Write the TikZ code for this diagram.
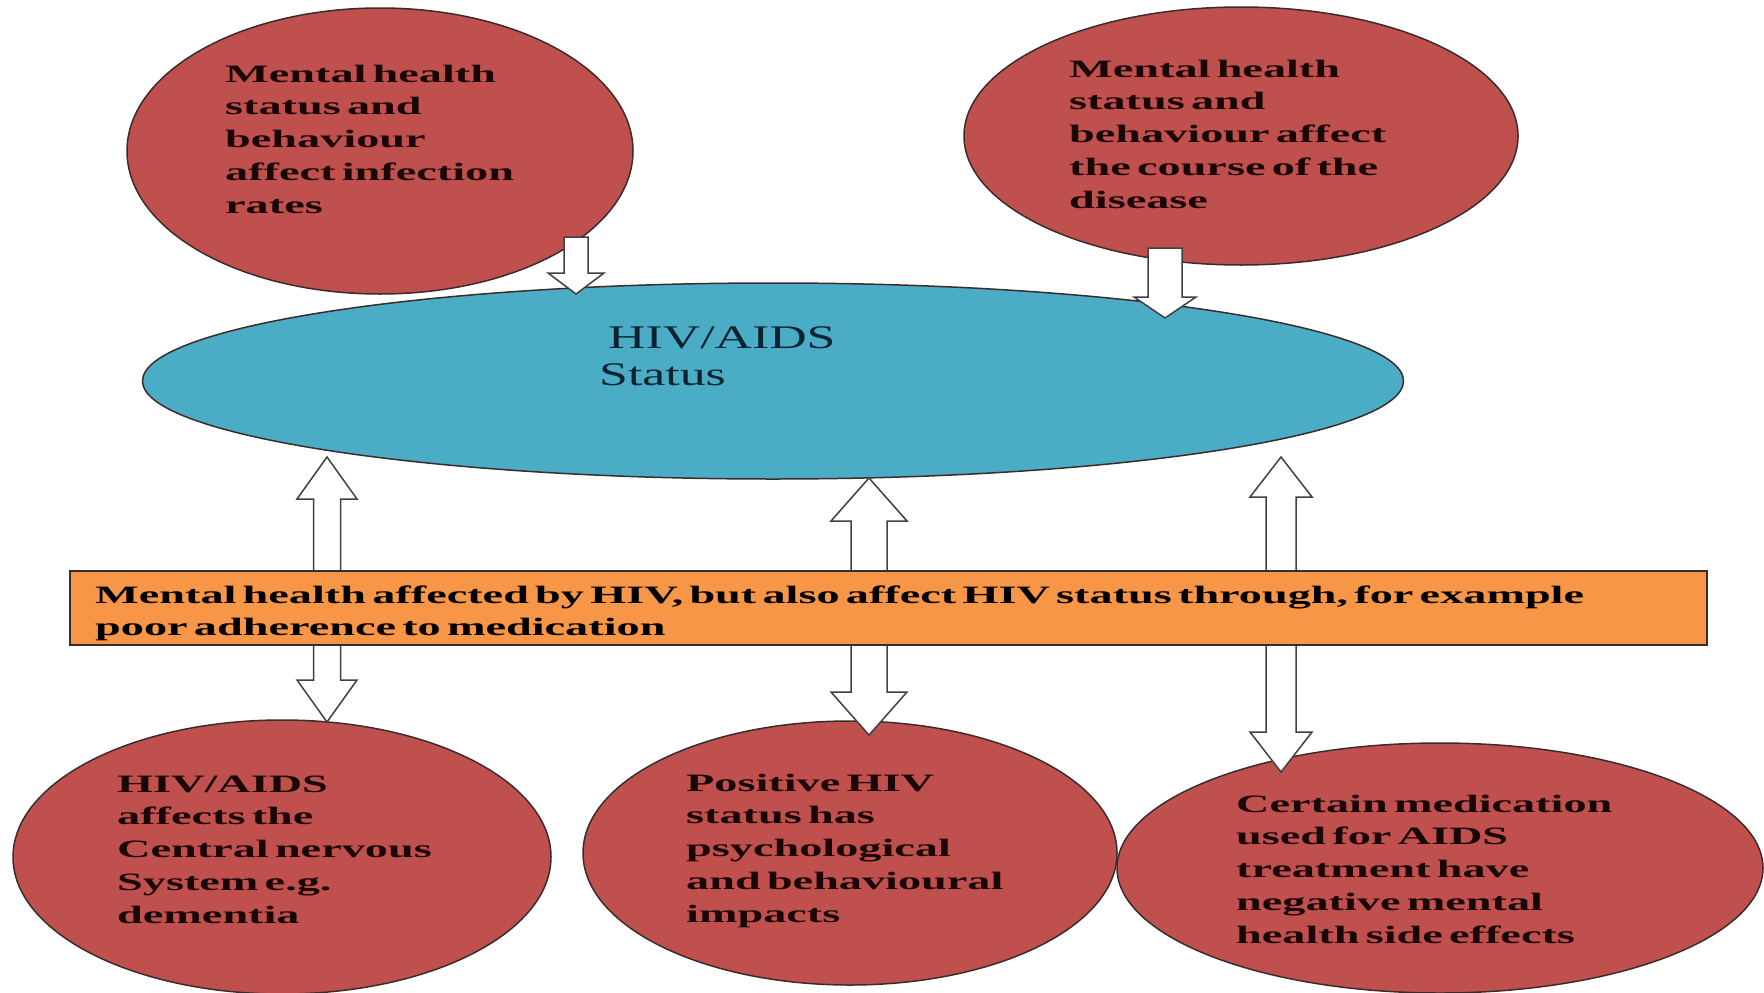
\documentclass[tikz,border=0pt]{standalone}
\usepackage{fontspec}
\usetikzlibrary{shapes.geometric,calc}
\newfontfamily\rfont{Liberation Serif}[FakeStretch=1.85]
\newfontfamily\bfont{Liberation Serif}[FakeStretch=1.57]
\definecolor{redfill}{HTML}{C0504D}
\definecolor{blufill}{HTML}{4BACC6}
\definecolor{orgfill}{HTML}{F79646}
\definecolor{edgec}{HTML}{3A2C2C}
\definecolor{arrc}{HTML}{404040}
\definecolor{redtext}{HTML}{1A0606}
\definecolor{blutext}{HTML}{0B2230}
\newcommand\txtlines[1]{\begin{tabular}[t]{@{}l@{}}#1\end{tabular}}
% single block arrow pointing down: #1 start, #2 tip, #3 shaft half width, #4 head half width, #5 head length
\newcommand\sglarrow[5]{%
  \draw[blk] ($(#1)+(-#3,0)$) -- ($(#1)+(#3,0)$) -- ($(#2)+(#3,-#5)$) -- ($(#2)+(#4,-#5)$) -- (#2)
    -- ($(#2)+(-#4,-#5)$) -- ($(#2)+(-#3,-#5)$) -- cycle;}
% double block arrow: #1 top tip, #2 bottom tip
\newcommand\dblarrow[5]{%
  \draw[blk] (#1) -- ($(#1)+(#4,#5)$) -- ($(#1)+(#3,#5)$) -- ($(#2)+(#3,-#5)$) -- ($(#2)+(#4,-#5)$) -- (#2)
    -- ($(#2)+(-#4,-#5)$) -- ($(#2)+(-#3,-#5)$) -- ($(#1)+(-#3,#5)$) -- ($(#1)+(-#4,#5)$) -- cycle;}
\tikzset{
  redell/.style={ellipse, draw=edgec, fill=redfill, line width=1.5pt, inner sep=0pt},
  bluell/.style={ellipse, draw=edgec, fill=blufill, line width=1.5pt, inner sep=0pt},
  orgbox/.style={rectangle, draw=edgec, fill=orgfill, line width=1.5pt, inner sep=0pt},
  blk/.style={draw=arrc, fill=white, line width=1.5pt, line join=miter},
  redtxt/.style={anchor=base west, inner sep=0pt, text=redtext,
    font={\rfont\bfseries\fontsize{25}{32.75}\selectfont\spaceskip=0.25em\relax}},
  orgtxt/.style={anchor=base west, inner sep=0pt, text=black,
    font={\rfont\bfseries\fontsize{25}{32}\selectfont\spaceskip=0.25em\relax}},
  blutxt/.style={anchor=base west, inner sep=0pt, text=blutext,
    font={\bfont\fontsize{33}{37}\selectfont}},
}
\begin{document}
\begin{tikzpicture}[x=1pt,y=-1pt]
\useasboundingbox (0,0) rectangle (1764,993);
\clip (0,0) rectangle (1764,993);
% top ellipses
\node[redell, minimum width=506pt, minimum height=286pt] (tl) at (380,151) {};
\node[redell, minimum width=554pt, minimum height=258pt] (tr) at (1241,136) {};
% central ellipse
\node[bluell, minimum width=1261pt, minimum height=196pt] (hiv) at (773,381) {};
% top arrows
\coordinate (a1s) at (576,237);
\coordinate (a1e) at (576,294);
\coordinate (a2s) at (1165,248);
\coordinate (a2e) at (1165,318);
\sglarrow{a1s}{a1e}{12}{28}{21}
\sglarrow{a2s}{a2e}{17}{31}{21}
% bottom ellipses
\node[redell, minimum width=538pt, minimum height=274pt] (bl) at (282,857) {};
\node[redell, minimum width=534pt, minimum height=264pt] (bm) at (850,853) {};
\node[redell, minimum width=646pt, minimum height=250pt] (br) at (1440,868) {};
% double arrows
\coordinate (d1t) at (327,457);
\coordinate (d1b) at (327,722);
\coordinate (d2t) at (869,478);
\coordinate (d2b) at (869,735);
\coordinate (d3t) at (1281,457);
\coordinate (d3b) at (1281,772);
\dblarrow{d1t}{d1b}{13.5}{30}{42}
\dblarrow{d2t}{d2b}{18}{38}{43}
\dblarrow{d3t}{d3b}{15}{31}{40}
% orange bar
\node[orgbox, minimum width=1637pt, minimum height=74pt] (bar) at (888.5,608) {};
% texts
\node[redtxt] (tltxt) at (225,82) {\txtlines{Mental health\\status and\\behaviour\\affect infection\\rates}};
\node[redtxt] (trtxt) at (1069,77) {\txtlines{Mental health\\status and\\behaviour affect\\the course of the\\disease}};
\node[blutxt] (hivtxt) at (599,348) {\txtlines{\hspace*{9pt}HIV/AIDS\\Status}};
\node[orgtxt] (bartxt) at (95,603) {\txtlines{Mental health affected by HIV, but also affect HIV status through, for example\\poor adherence to medication}};
\node[redtxt] (bltxt) at (117,792) {\txtlines{HIV/AIDS\\affects the\\Central nervous\\System e.g.\\dementia}};
\node[redtxt] (bmtxt) at (686,791) {\txtlines{Positive HIV\\status has\\psychological\\and behavioural\\impacts}};
\node[redtxt] (brtxt) at (1236,812) {\txtlines{Certain medication\\used for AIDS\\treatment have\\negative mental\\health side effects}};
\end{tikzpicture}
\end{document}
